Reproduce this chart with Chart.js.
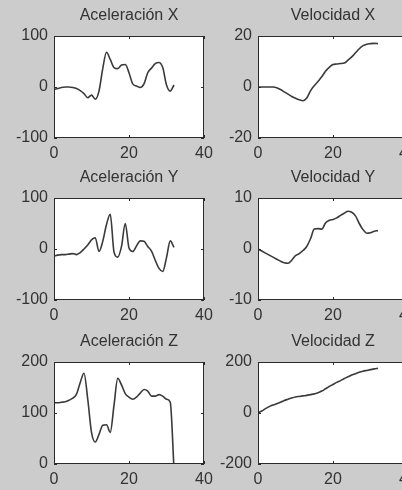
<!DOCTYPE html>
<html>
<head>
<meta charset="utf-8">
<script src="https://cdn.jsdelivr.net/npm/chart.js@4"></script>
<style>
  html, body { margin: 0; padding: 0; }
  body { width: 402px; height: 490px; background: #cccccc; overflow: hidden; position: relative; }
  canvas { position: absolute; }
</style>
</head>
<body>
<canvas id="accX" width="224" height="162" style="left:0px;top:0px"></canvas>
<canvas id="velX" width="224" height="162" style="left:204px;top:0px"></canvas>
<canvas id="accY" width="224" height="162" style="left:0px;top:162px"></canvas>
<canvas id="velY" width="224" height="162" style="left:204px;top:162px"></canvas>
<canvas id="accZ" width="224" height="162" style="left:0px;top:326px"></canvas>
<canvas id="velZ" width="224" height="162" style="left:204px;top:326px"></canvas>
<script>
// === DATOS ===
const time = [0, 1, 2, 3, 4, 5, 6, 7, 8, 9, 10, 11, 12, 13, 14, 15, 16, 17, 18, 19, 20, 21, 22, 23, 24, 25, 26, 27, 28, 29, 30, 31, 32];

const accelX = [-5, -3, -1, 0, 0, -1, -3, -7, -13, -21, -16, -24, -8, 36, 68, 54, 38, 36, 43, 44, 28, 6, 2, -1, 6, 28, 37, 46, 48, 38, 4, -8, 4];
const velX = [0, 0, 0, 0, 0, -0.3, -1, -1.9, -2.8, -3.7, -4.4, -5, -5.4, -4.3, -1.5, 0.5, 2.2, 4, 6.2, 7.7, 8.8, 9, 9.2, 9.4, 10.5, 11.8, 13.4, 15, 16.2, 16.8, 17, 17.1, 17];
const accelY = [-14, -12, -11, -11, -10, -9, -11, -7, 0, 8, 18, 22, -5, 15, 48, 68, -6, -16, 5, 50, 2, -5, 6, 16, 15, 5, -4, -22, -38, -44, -17, 16, 3];
const velY = [0, -0.4, -0.8, -1.2, -1.6, -2, -2.4, -2.7, -2.8, -2.2, -1.3, -0.9, -0.3, 0.5, 2, 3.9, 4, 3.9, 5.1, 5.6, 5.8, 6.1, 6.6, 7, 7.4, 7.2, 6.5, 5, 3.8, 3.1, 3.2, 3.5, 3.6];
const accelZ = [120, 120, 121, 122, 125, 129, 137, 160, 178, 127, 62, 43, 58, 76, 77, 62, 115, 168, 155, 138, 131, 127, 131, 139, 146, 143, 133, 133, 136, 133, 127, 121, -10];
const velZ = [0, 8, 17, 25, 31, 36, 42, 49, 54, 59, 63, 65, 67, 69, 72, 75, 79, 86, 95, 104, 112, 120, 127, 135, 142, 149, 154, 160, 164, 167, 170, 173, 175];

const xTicks = [0, 20, 40];
const yTicksAccXY = [-100, 0, 100];
const yTicksVelX = [-20, 0, 20];
const yTicksVelY = [-10, 0, 10];
const yTicksAccZ = [0, 100, 200];
const yTicksVelZ = [-200, 0, 200];

Chart.defaults.font.family = "'Liberation Sans', Arial, sans-serif";
Chart.defaults.font.size = 16;
Chart.defaults.color = "#333";

// fondo blanco, marco y marcas hacia dentro (estilo MATLAB)
const framePlugin = {
  id: "frame",
  beforeDraw(chart) {
    const { ctx, chartArea: a } = chart;
    ctx.save();
    ctx.fillStyle = "#fff";
    ctx.fillRect(a.left, a.top, a.right - a.left, a.bottom - a.top);
    ctx.restore();
  },
  afterDatasetsDraw(chart) {
    const { ctx, chartArea: a, scales } = chart;
    const len = 3;
    ctx.save();
    ctx.strokeStyle = "#2b2b2b";
    ctx.lineWidth = 1;
    ctx.strokeRect(a.left + 0.5, a.top + 0.5, a.right - a.left - 1, a.bottom - a.top - 1);
    ctx.beginPath();
    scales.x.ticks.forEach((t) => {
      const px = Math.round(scales.x.getPixelForValue(t.value)) + 0.5;
      ctx.moveTo(px, a.bottom); ctx.lineTo(px, a.bottom - len);
      ctx.moveTo(px, a.top); ctx.lineTo(px, a.top + len);
    });
    scales.y.ticks.forEach((t) => {
      const py = Math.round(scales.y.getPixelForValue(t.value)) + 0.5;
      ctx.moveTo(a.left, py); ctx.lineTo(a.left + len, py);
      ctx.moveTo(a.right, py); ctx.lineTo(a.right - len, py);
    });
    ctx.stroke();
    ctx.restore();
  },
};

function makePlot(id, title, values, yTicks) {
  const ctx = document.getElementById(id).getContext("2d");
  return new Chart(ctx, {
    type: "line",
    data: {
      datasets: [
        {
          data: values.map((v, i) => ({ x: time[i], y: v })),
          borderColor: "#3a3a3a",
          borderWidth: 1.6,
          pointRadius: 0,
          cubicInterpolationMode: "monotone",
          clip: 0,
        },
      ],
    },
    options: {
      responsive: false,
      animation: false,
      layout: { padding: { left: 0, right: 20, top: 0, bottom: 0 } },
      plugins: {
        legend: { display: false },
        tooltip: { enabled: false },
        title: {
          display: true,
          text: title,
          fullSize: false,
          color: "#333",
          font: { size: 16, weight: "normal", lineHeight: 1.2 },
          padding: { top: 6.4, bottom: 10.4 },
        },
      },
      scales: {
        x: {
          type: "linear",
          min: xTicks[0],
          max: xTicks[xTicks.length - 1],
          ticks: { stepSize: xTicks[1] - xTicks[0], padding: 6, maxRotation: 0 },
          grid: { display: false, drawTicks: false },
          border: { display: false },
          afterFit: (s) => { s.height = 24; },
        },
        y: {
          min: yTicks[0],
          max: yTicks[yTicks.length - 1],
          ticks: { stepSize: yTicks[1] - yTicks[0], padding: 6 },
          grid: { display: false, drawTicks: false },
          border: { display: false },
          afterFit: (s) => { s.width = 54; },
        },
      },
    },
    plugins: [framePlugin],
  });
}

makePlot("accX", "Aceleración X", accelX, yTicksAccXY);
makePlot("velX", "Velocidad X", velX, yTicksVelX);
makePlot("accY", "Aceleración Y", accelY, yTicksAccXY);
makePlot("velY", "Velocidad Y", velY, yTicksVelY);
makePlot("accZ", "Aceleración Z", accelZ, yTicksAccZ);
makePlot("velZ", "Velocidad Z", velZ, yTicksVelZ);
</script>
</body>
</html>
